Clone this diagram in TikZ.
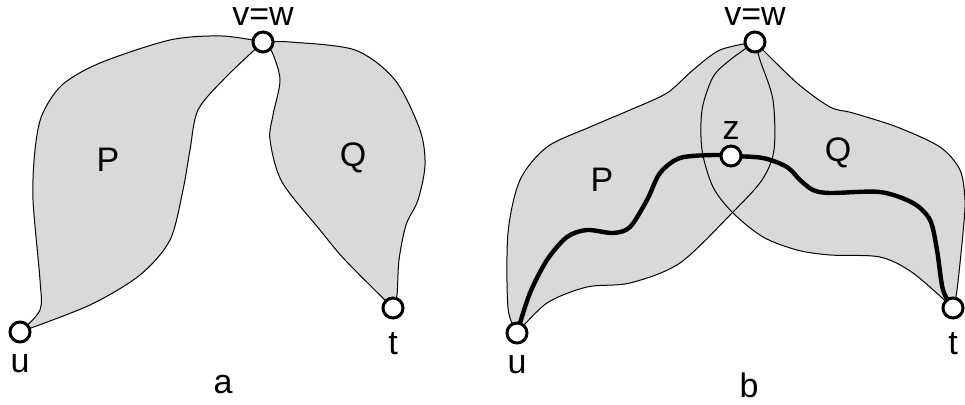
\documentclass[tikz,border=0pt]{standalone}
\usepackage{fontspec}
\setmainfont{Liberation Sans}
\usetikzlibrary{positioning,backgrounds}
\definecolor{RegionGray}{RGB}{217,217,217}
\newcommand\PbPath{plot[smooth] coordinates {(ub.center) (508,308) (508,233) (520,180) (547,147) (590,127) (630,110) (667,93) (693,70) (720,50) (vb.center)}
  -- plot[smooth] coordinates {(vb.center) (760,60) (773,100) (774,150) (762,180) (733,212) (680,263) (630,283) (587,287) (547,303) (ub.center)} -- cycle}
\newcommand\QbPath{plot[smooth] coordinates {(vb.center) (797,83) (830,107) (853,113) (897,127) (940,147) (960,170) (965,200) (963,233) (957,290) (tb.center)}
  -- plot[smooth] coordinates {(tb.center) (913,273) (880,257) (830,255) (797,250) (763,237) (733,213) (713,187) (702,150) (702,110) (713,77) (730,60) (vb.center)} -- cycle}

\begin{document}
\begin{tikzpicture}[x=0.5pt,y=-0.5pt,
  every node/.style={font=\fontsize{17}{20}\selectfont},
  vtx/.style={circle,draw,fill=white,line width=1.5pt,minimum size=10pt,inner sep=0pt},
  region/.style={fill=RegionGray,draw=black,line width=0.5pt},
  walk/.style={line width=2.2pt,line cap=round}]
\useasboundingbox (0,0) rectangle (965,405);
% left picture
\node[vtx] (va) at (263,42) {};
\node[vtx] (ua) at (20,332) {};
\node[vtx] (ta) at (393,308) {};
\node[above=-1pt of va] (va-lbl) {v=w};
\node[below=2pt of ua] (ua-lbl) {u};
\node[below=3pt of ta] (ta-lbl) {t};
\node (Pa) at (108,160) {P};
\node (Qa) at (353,158) {Q};
\node (capa) at (223,385) {a};
\begin{pgfonlayer}{background}
\filldraw[region] plot[smooth] coordinates {(ua.center) (40,310) (40,280) (33,200) (35,150) (42,115) (62,85) (100,63) (170,40) (222,36) (va.center)}
  -- plot[smooth] coordinates {(va.center) (225,78) (198,110) (190,150) (183,190) (170,240) (140,275) (90,305) (ua.center)} -- cycle;
\filldraw[region] plot[smooth] coordinates {(va.center) (290,42) (355,50) (395,80) (420,130) (425,165) (418,200) (406,225) (399,260) (397,295) (ta.center)}
  -- plot[smooth] coordinates {(ta.center) (345,260) (320,230) (282,182) (270,140) (273,115) (280,80) (272,52) (va.center)} -- cycle;
\end{pgfonlayer}
% right picture
\node[vtx] (vb) at (755,42) {};
\node[vtx] (ub) at (517,333) {};
\node[vtx] (tb) at (953,308) {};
\node[vtx] (zb) at (731,156) {};
\node[above=-1pt of vb] (vb-lbl) {v=w};
\node[below=2pt of ub] (ub-lbl) {u};
\node[below=3pt of tb] (tb-lbl) {t};
\node[above=-1pt of zb] (zb-lbl) {z};
\node (Pb) at (602,180) {P};
\node (Qb) at (838,153) {Q};
\node (capb) at (749,385) {b};
\begin{pgfonlayer}{background}
\fill[RegionGray] \PbPath;
\fill[RegionGray] \QbPath;
\draw[line width=0.5pt] \PbPath;
\draw[line width=0.5pt] \QbPath;
\draw[walk] plot[smooth] coordinates {(ub.center) (530,293) (547,260) (567,237) (587,230) (613,233) (630,227) (647,200) (660,173) (680,158) (713,155) (zb.center)
  (763,158) (787,167) (800,180) (813,190) (830,193) (880,192) (913,203) (930,220) (937,250) (943,290) (tb.center)};
\end{pgfonlayer}
\end{tikzpicture}
\end{document}
